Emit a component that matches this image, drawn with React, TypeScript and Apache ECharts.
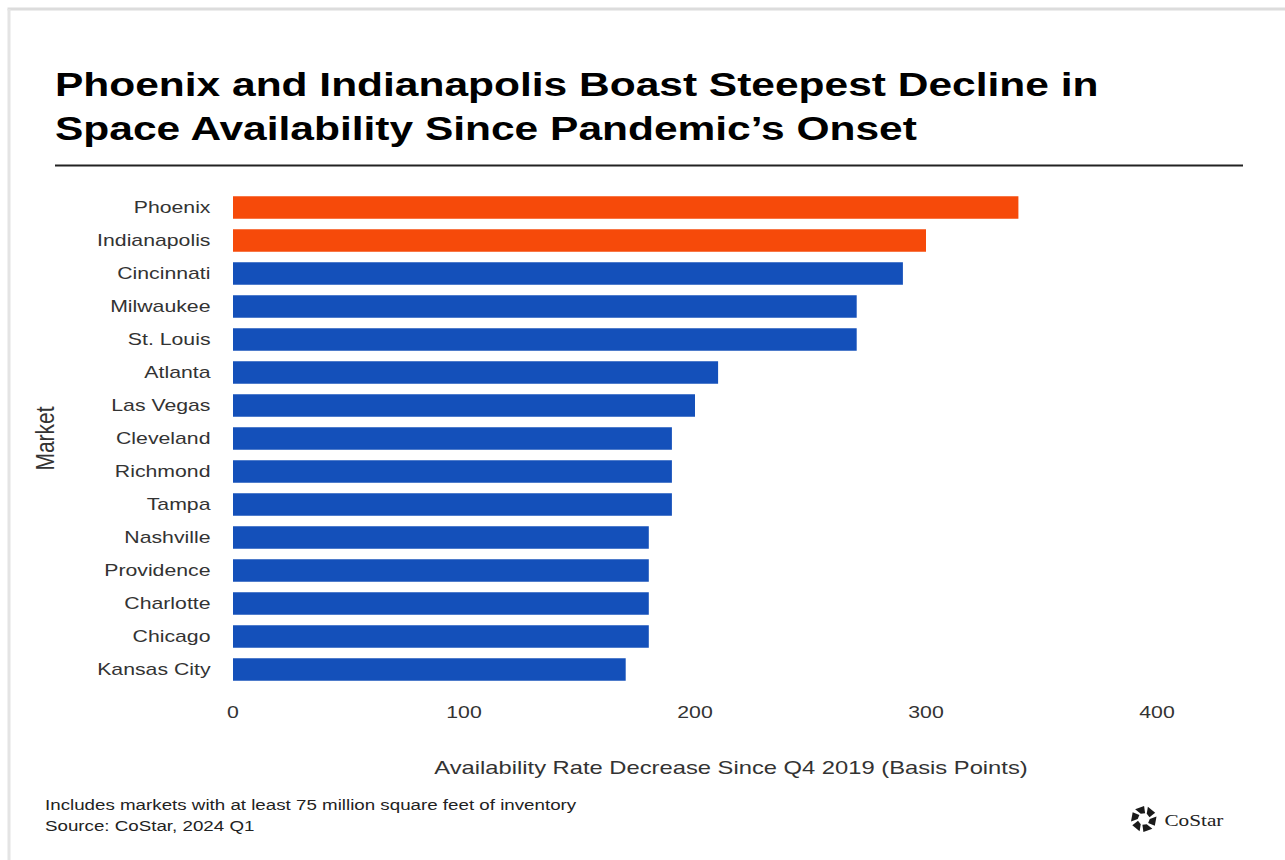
import React, { useEffect, useRef } from "react";
import * as echarts from "echarts";

// Markets, ordered from largest to smallest decline
const markets = [
  "Phoenix",
  "Indianapolis",
  "Cincinnati",
  "Milwaukee",
  "St. Louis",
  "Atlanta",
  "Las Vegas",
  "Cleveland",
  "Richmond",
  "Tampa",
  "Nashville",
  "Providence",
  "Charlotte",
  "Chicago",
  "Kansas City",
];

// Availability rate decrease since Q4 2019, in basis points
const decreaseBps = [340, 300, 290, 270, 270, 210, 200, 190, 190, 190, 180, 180, 180, 180, 170];

// Markets called out in the headline
const highlighted = ["Phoenix", "Indianapolis"];

const xTicks = { min: 0, max: 400, interval: 100 };

const ORANGE = "#F64A0A";
const BLUE = "#1450BA";
const FONT = "'Liberation Sans', Arial, sans-serif";

// The graphic is laid out on a narrower canvas and widened with a horizontal stretch
const STRETCH = 1.25;
const PAGE_W = 1285;
const PAGE_H = 860;
const W = PAGE_W / STRETCH;

// Small pinwheel mark for the CoStar logo
function logoPieces(cx: number, cy: number) {
  const pieces: any[] = [];
  for (let i = 0; i < 6; i++) {
    const a = (i * Math.PI) / 3;
    const r1 = 6;
    const r2 = 13;
    const pt = (r: number, t: number) => [cx + (r * Math.cos(t)) / STRETCH, cy + r * Math.sin(t)];
    pieces.push({
      type: "polygon",
      shape: { points: [pt(r1, a), pt(r2, a - 0.2), pt(r2, a + 0.55), pt(r1, a + 0.75)] },
      style: { fill: "#1a1a1a" },
    });
  }
  return pieces;
}

export default function App() {
  const ref = useRef<HTMLDivElement>(null);

  useEffect(() => {
    if (!ref.current) return;
    const chart = echarts.init(ref.current, null, { renderer: "svg" });

    chart.setOption({
      animation: false,
      backgroundColor: "#ffffff",
      grid: { left: 186.4, right: W - 925.6, top: 191, bottom: 174, containLabel: false },
      xAxis: {
        type: "value",
        min: xTicks.min,
        max: xTicks.max,
        interval: xTicks.interval,
        splitLine: { show: false },
        axisLine: { show: false },
        axisTick: { show: false },
        axisLabel: { color: "#333", fontSize: 17, fontFamily: FONT, margin: 18 },
      },
      yAxis: {
        type: "category",
        data: markets,
        inverse: true,
        axisLine: { show: false },
        axisTick: { show: false },
        axisLabel: { color: "#333", fontSize: 17, fontFamily: FONT, margin: 18 },
        name: "Market",
        nameLocation: "middle",
        nameRotate: 90,
        nameGap: 140,
        nameTextStyle: { color: "#333", fontSize: 21, fontFamily: FONT },
      },
      series: [
        {
          type: "bar",
          barCategoryGap: "32%",
          data: decreaseBps.map((v, i) => ({
            value: v,
            itemStyle: { color: highlighted.includes(markets[i]) ? ORANGE : BLUE },
          })),
        },
      ],
      graphic: [
        // light frame along the top and left edges
        { type: "line", shape: { x1: 6, y1: 9, x2: W, y2: 9 }, style: { stroke: "#dcdcdc", lineWidth: 3 } },
        { type: "line", shape: { x1: 7.2, y1: 9, x2: 7.2, y2: PAGE_H }, style: { stroke: "#e4e4e4", lineWidth: 2.4 } },
        {
          type: "text",
          left: 44,
          top: 62,
          style: {
            text: "Phoenix and Indianapolis Boast Steepest Decline in\nSpace Availability Since Pandemic\u2019s Onset",
            font: `bold 34px ${FONT}`,
            lineHeight: 44,
            fill: "#000",
          },
        },
        { type: "line", shape: { x1: 44, y1: 165.5, x2: 994.4, y2: 165.5 }, style: { stroke: "#222", lineWidth: 2 } },
        {
          type: "text",
          x: 584.8,
          y: 768,
          style: {
            text: "Availability Rate Decrease Since Q4 2019 (Basis Points)",
            font: `19px ${FONT}`,
            fill: "#333",
            align: "center",
            verticalAlign: "middle",
          },
        },
        {
          type: "text",
          x: 36,
          y: 805,
          style: {
            text: "Includes markets with at least 75 million square feet of inventory",
            font: `15px ${FONT}`,
            fill: "#222",
            verticalAlign: "middle",
          },
        },
        {
          type: "text",
          x: 36,
          y: 826,
          style: { text: "Source: CoStar, 2024 Q1", font: `15px ${FONT}`, fill: "#222", verticalAlign: "middle" },
        },
        ...logoPieces(915, 819),
        {
          type: "text",
          x: 931.5,
          y: 820,
          style: {
            text: "CoStar",
            font: "17px 'Liberation Serif', 'DejaVu Serif', serif",
            fill: "#222",
            verticalAlign: "middle",
          },
        },
      ],
    });

    return () => chart.dispose();
  }, []);

  return (
    <div style={{ position: "fixed", left: 0, top: 0, width: PAGE_W, height: PAGE_H, background: "#fff", overflow: "hidden" }}>
      <div
        ref={ref}
        style={{
          width: W,
          height: PAGE_H,
          transform: `scaleX(${STRETCH})`,
          transformOrigin: "0 0",
        }}
      />
    </div>
  );
}
